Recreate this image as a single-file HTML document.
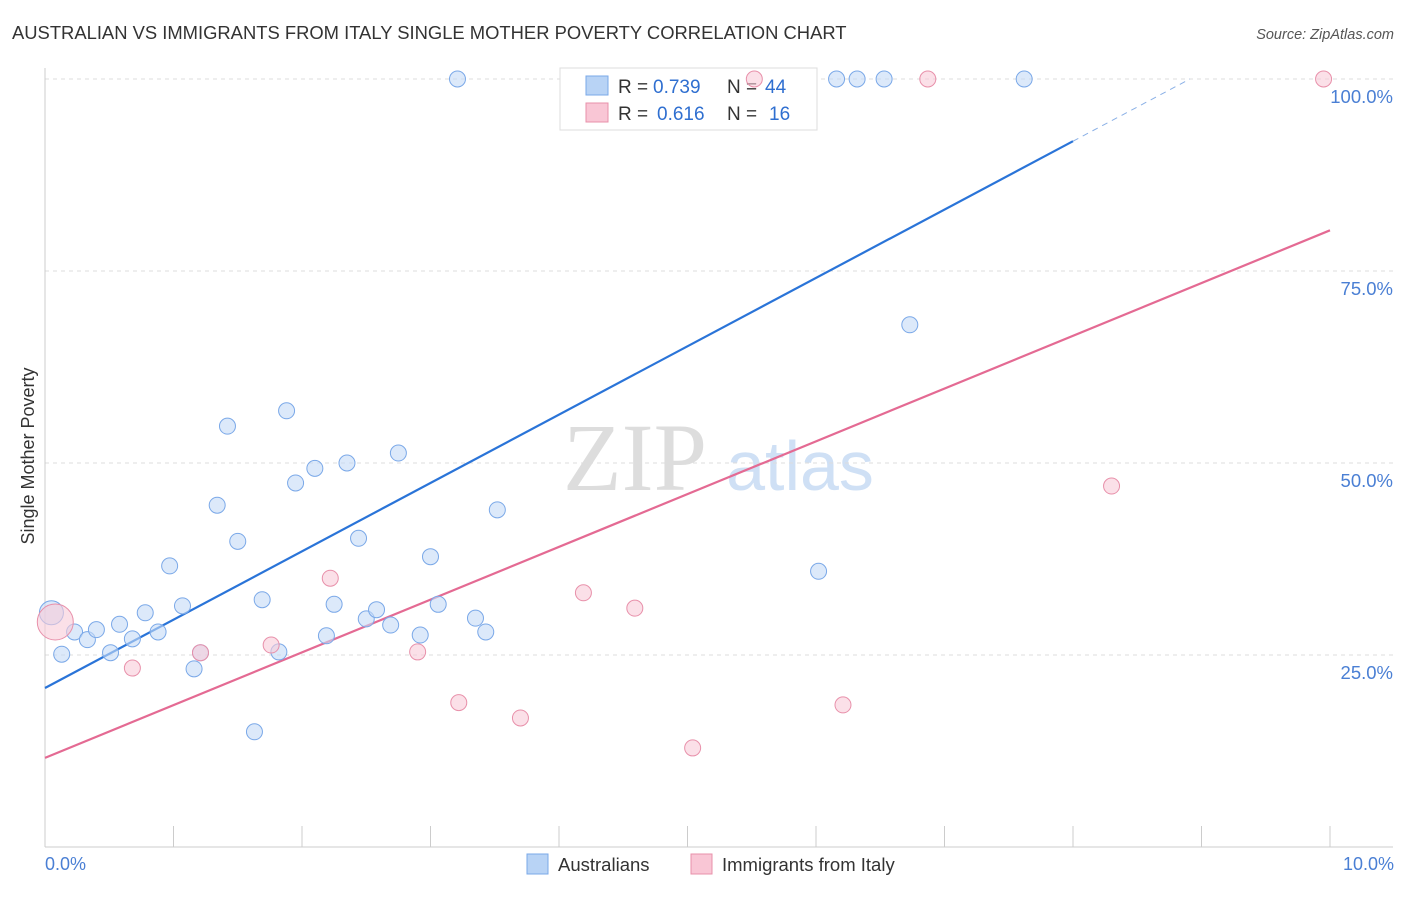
<!DOCTYPE html>
<html><head><meta charset="utf-8"><style>
body{margin:0;background:#fff;font-family:"Liberation Sans",sans-serif;}
</style></head><body>
<svg width="1406" height="892" xmlns="http://www.w3.org/2000/svg" id="chart">
<text x="12" y="39" font-size="18.4" fill="#333">AUSTRALIAN VS IMMIGRANTS FROM ITALY SINGLE MOTHER POVERTY CORRELATION CHART</text>
<text x="1394" y="39" font-size="14.5" fill="#555" font-style="italic" text-anchor="end">Source: ZipAtlas.com</text>
<text transform="translate(34,456) rotate(-90)" font-size="18" fill="#333" text-anchor="middle">Single Mother Poverty</text>
<g>
<text x="635" y="490" font-size="96" font-family="Liberation Serif,serif" fill="#ddd" text-anchor="middle">ZIP</text>
<text x="800" y="490" font-size="70" fill="#cfe0f5" text-anchor="middle">atlas</text>
</g>
<g id="grid"></g>
<g>
<rect x="560" y="68" width="257" height="62" fill="#fff" stroke="#ddd"/>
<rect x="586" y="76" width="22" height="19" fill="#b8d3f5" stroke="#7aa8e8"/>
<rect x="586" y="103" width="22" height="19" fill="#f9c6d5" stroke="#e890aa"/>
<text x="618" y="93" font-size="19" fill="#333">R =</text>
<text x="653" y="93" font-size="19" fill="#2f6fd0">0.739</text>
<text x="727" y="93" font-size="19" fill="#333">N =</text>
<text x="765" y="93" font-size="19" fill="#2f6fd0">44</text>
<text x="618" y="120" font-size="19" fill="#333">R =</text>
<text x="657" y="120" font-size="19" fill="#2f6fd0">0.616</text>
<text x="727" y="120" font-size="19" fill="#333">N =</text>
<text x="769" y="120" font-size="19" fill="#2f6fd0">16</text>
</g>
<g id="lines"></g><g id="pts"></g>
<text x="45" y="870" font-size="18" fill="#4a7fd4">0.0%</text>
<text x="1394" y="870" font-size="18" fill="#4a7fd4" text-anchor="end">10.0%</text>
<g>
<rect x="527" y="854" width="21" height="20" fill="#b8d3f5" stroke="#7aa8e8"/>
<text x="558" y="871" font-size="18.5" fill="#333">Australians</text>
<rect x="691" y="854" width="21" height="20" fill="#f9c6d5" stroke="#e890aa"/>
<text x="722" y="871" font-size="18.5" fill="#333">Immigrants from Italy</text>
</g>
</svg>
<script>
const blueX=[0.05,0.13,0.23,0.33,0.40,0.51,0.58,0.68,0.78,0.88,0.97,1.07,1.16,1.21,1.34,1.42,1.50,1.63,1.69,1.82,1.88,1.95,2.10,2.19,2.25,2.35,2.44,2.50,2.58,2.69,2.75,2.92,3.00,3.06,3.21,3.35,3.43,3.52,6.02,6.16,6.32,6.53,6.73,7.62];
const blueY=[30.5,25.1,28.0,27.0,28.3,25.3,29.0,27.1,30.5,28.0,36.6,31.4,23.2,25.3,44.5,54.8,39.8,15.0,32.2,25.4,56.8,47.4,49.3,27.5,31.6,50.0,40.2,29.7,30.9,28.9,51.3,27.6,37.8,31.6,100,29.8,28.0,43.9,35.9,100,100,100,68.0,100];
const pinkX=[0.08,0.68,1.21,1.76,2.22,2.90,3.22,3.70,4.19,4.59,5.04,5.52,6.21,6.87,8.30,9.95];
const pinkY=[29.3,23.3,25.3,26.3,35.0,25.4,18.8,16.8,33.1,31.1,12.9,100,18.5,100,47.0,100];
const blueTrend=[20.7,8.9];
const pinkTrend=[11.6,6.87];
const yTicks=[25,50,75,100];
const xTicks=[0,1,2,3,4,5,6,7,8,9,10];
const NS="http://www.w3.org/2000/svg";
const sx=v=>45+v*128.5, sy=v=>847-v*7.68;
function mk(p,t,a){const e=document.createElementNS(NS,t);for(const k in a)e.setAttribute(k,a[k]);document.getElementById(p).appendChild(e);return e;}
yTicks.forEach(t=>{
 const l=mk('grid','line',{x1:45,x2:1393,y1:sy(t),y2:sy(t),stroke:'#ddd','stroke-dasharray':'4,4'});
 
 
 const tx=mk('grid','text',{x:1393,y:sy(t)+24,'font-size':18.5,fill:'#4a7fd4','text-anchor':'end'});
 tx.textContent=t.toFixed(1)+'%';
 
 
});
mk('grid','line',{x1:45,x2:45,y1:68,y2:847,stroke:'#ccc'});
mk('grid','line',{x1:45,x2:1393,y1:847,y2:847,stroke:'#ccc'});
xTicks.forEach(t=>{
 const l=mk('grid','line',{x1:sx(t),x2:sx(t),y1:826,y2:847,stroke:'#ccc'});
 
 
});
function trend(tr,x0,x1,col,name,dash){
 const l=mk('lines','line',{x1:sx(x0),y1:sy(tr[0]+tr[1]*x0),x2:sx(x1),y2:sy(tr[0]+tr[1]*x1),stroke:col,'stroke-width':dash?1:2.2});
 if(dash)l.setAttribute('stroke-dasharray','6,5');
 
 
}
trend(blueTrend,0,8,'#2a74d8','blue-trend-line',false);
trend(blueTrend,8,(100-blueTrend[0])/blueTrend[1],'#8ab0e6','blue-trend-extension',true);
trend(pinkTrend,0,10,'#e46a93','pink-trend-line',false);
blueX.forEach((x,i)=>{
 const c=mk('pts','circle',{cx:sx(x),cy:sy(blueY[i]),r:i===0?12:8,fill:'#c4dbf7','fill-opacity':0.6,stroke:'#7aa8e8','stroke-width':1});
 
 
});
pinkX.forEach((x,i)=>{
 const c=mk('pts','circle',{cx:sx(x),cy:sy(pinkY[i]),r:i===0?18:8,fill:'#f9ccd9','fill-opacity':0.6,stroke:'#e890aa','stroke-width':1});
 
 
});
</script>
</body></html>
